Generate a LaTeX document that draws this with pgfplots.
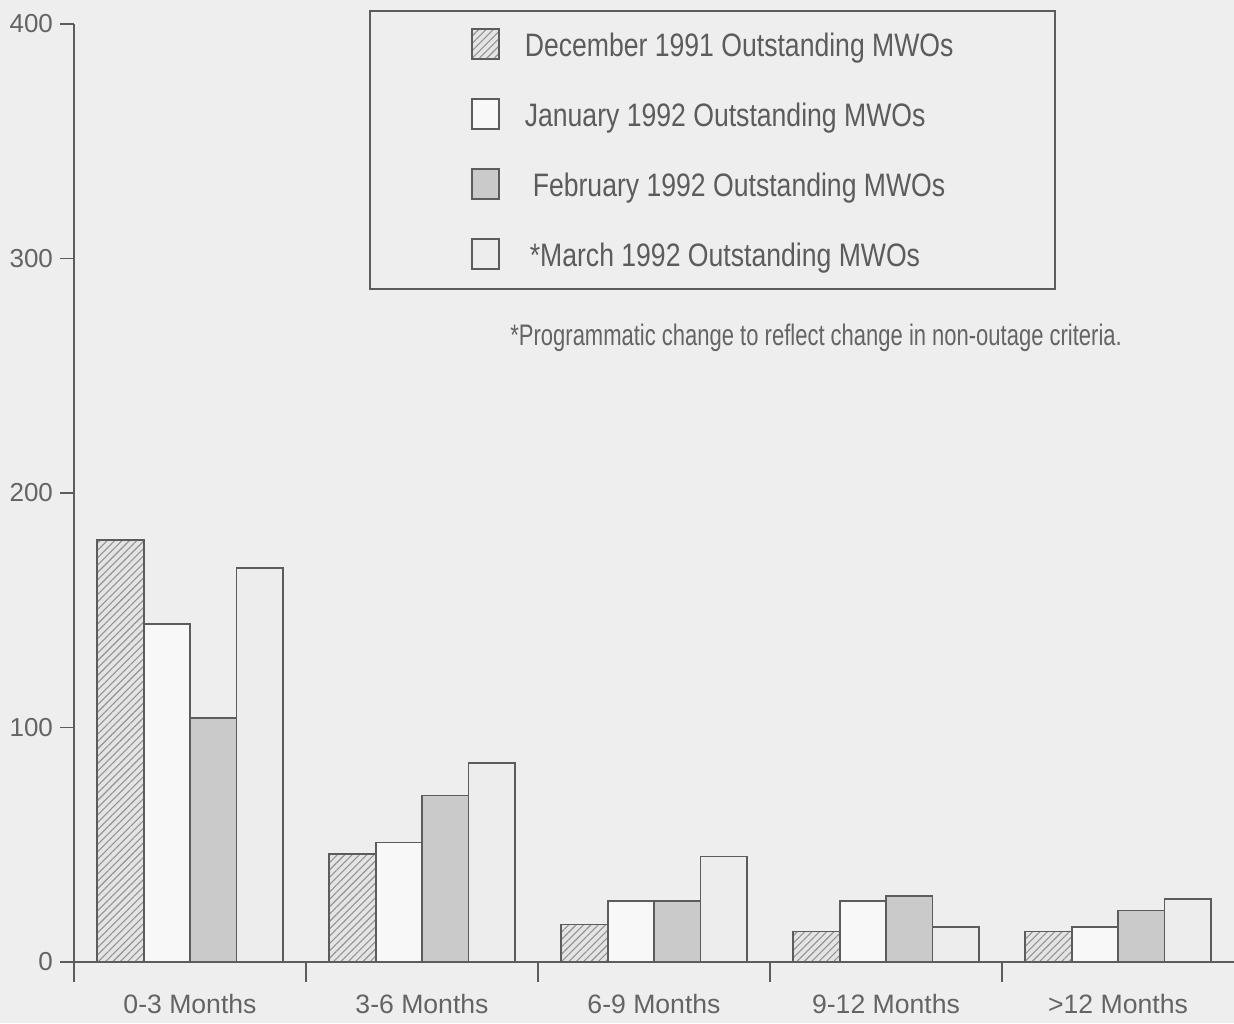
\documentclass[border=0pt]{standalone}
\usepackage{pgfplots}
\pgfplotsset{compat=1.18}
\usepackage{fontspec}
\setmainfont{Liberation Sans}
\usepackage{graphicx}
\usetikzlibrary{patterns.meta}
\definecolor{bgc}{HTML}{EEEEEE}
\definecolor{ink}{HTML}{5C5C5C}
\definecolor{txt}{HTML}{646464}
\definecolor{febc}{HTML}{CACACA}
\definecolor{decc}{HTML}{E4E4E4}
\definecolor{janc}{HTML}{F8F8F8}
\definecolor{marc}{HTML}{EDEDED}
\newcommand{\vs}[1]{\raisebox{-2.5pt}{\scalebox{1}[1.22]{#1}}}
\pgfplotsset{
  sq/.style={legend image code/.code={\draw[##1] (0pt,-7pt) rectangle (13.5pt,8pt);}},
  mybar/.style={ybar, bar width=0.2, draw=ink, line width=0.9pt},
}
\begin{document}
\begin{tikzpicture}
\useasboundingbox (0,0) rectangle (617pt,511.5pt);
\fill[bgc] (0,0) rectangle (617pt,511.5pt);
\begin{axis}[
  at={(37pt,30.5pt)}, anchor=south west,
  scale only axis, width=580pt, height=469pt,
  xmin=-0.5, xmax=4.5, ymin=0, ymax=400,
  axis x line=bottom, axis y line=left,
  axis line style={-, draw=ink, line width=0.9pt},
  ytick={0,100,200,300,400},
  xtick={0,1,2,3,4},
  xticklabels={0-3 Months,3-6 Months,6-9 Months,9-12 Months,>12 Months},
  minor xtick={-0.5,0.5,1.5,2.5,3.5},
  major x tick style={draw=none},
  tick align=outside,
  major tick length=7pt, minor tick length=10pt,
  tick style={draw=ink, line width=0.8pt},
  /pgf/number format/assume math mode=true,
  ticklabel style={font=\fontsize{13}{15}\selectfont, text=txt},
  xticklabel style={yshift=-5.5pt, font=\fontsize{13.3}{15}\selectfont},
  legend cell align=left,
  legend style={at={(0.2543,1.0149)}, anchor=north west, draw=ink, line width=1pt,
    fill=none, inner xsep=50.5pt, inner ysep=5pt, row sep=11pt, column sep=12.5pt,
    font=\fontsize{13.3}{15}\selectfont, text=ink,
    nodes={inner sep=0pt, text height=15pt, text depth=9pt}},
]
\addplot[mybar, bar shift=-0.3, fill=decc,
  postaction={pattern={Lines[angle=45,distance=2.6pt,line width=0.55pt]}, pattern color=gray!85}, sq]
  coordinates {(0,180) (1,46) (2,16) (3,13) (4,13)};
\addlegendentry{\vs{December 1991 Outstanding MWOs}}
\addplot[mybar, bar shift=-0.1, fill=janc, sq]
  coordinates {(0,144) (1,51) (2,26) (3,26) (4,15)};
\addlegendentry{\vs{January 1992 Outstanding MWOs}}
\addplot[mybar, bar shift=0.1, fill=febc, sq]
  coordinates {(0,104) (1,71) (2,26) (3,28) (4,22)};
\addlegendentry{\hspace{4pt}\vs{February 1992 Outstanding MWOs}}
\addplot[mybar, bar shift=0.3, fill=marc, sq]
  coordinates {(0,168) (1,85) (2,45) (3,15) (4,27)};
\addlegendentry{\hspace{2.5pt}\vs{*March 1992 Outstanding MWOs}}
\end{axis}
\node[anchor=west, text=txt, inner sep=0pt] at (255pt,342.5pt)
  {\fontsize{11}{12}\selectfont\scalebox{1}[1.35]{*Programmatic change to reflect change in non-outage criteria.}};
\end{tikzpicture}
\end{document}
